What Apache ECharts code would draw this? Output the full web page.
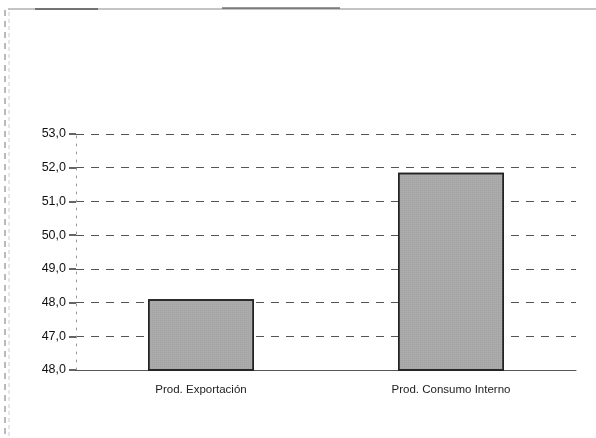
<!DOCTYPE html>
<html>
<head>
<meta charset="utf-8">
<script src="https://cdn.jsdelivr.net/npm/echarts@6/dist/echarts.min.js"></script>
<style>
  html, body { margin: 0; padding: 0; background: #fff; }
  #chart { width: 596px; height: 438px; }
</style>
</head>
<body>
<div id="chart"></div>
<script>
const categorias = ['Prod. Exportación', 'Prod. Consumo Interno'];
const valores = [48.1, 51.85];
// etiquetas del eje Y tal como aparecen (de abajo hacia arriba)
const etiquetasY = ['48,0', '47,0', '48,0', '49,0', '50,0', '51,0', '52,0', '53,0'];
const yMin = 46;

const chart = echarts.init(document.getElementById('chart'));

chart.setOption({
    animation: false,
    backgroundColor: '#fff',
    grid: { left: 76, right: 20, top: 134, bottom: 68 },
    xAxis: {
        type: 'category',
        data: categorias,
        axisLine: { lineStyle: { color: '#555', width: 1 } },
        axisTick: { show: false },
        axisLabel: {
            margin: 14,
            fontSize: 11.5,
            color: '#222',
            fontFamily: 'Liberation Sans Narrow, Arial Narrow, Liberation Sans, sans-serif'
        }
    },
    yAxis: {
        type: 'value',
        min: 46,
        max: 53,
        interval: 1,
        axisLine: { show: true, lineStyle: { color: '#999', type: [2, 6], width: 1 } },
        axisTick: { show: true, inside: false, length: 7, lineStyle: { color: '#333', width: 1.5 } },
        axisLabel: {
            margin: 10,
            fontSize: 12.5,
            color: '#111',
            fontFamily: 'Liberation Sans, Arial, sans-serif',
            formatter: (v) => etiquetasY[Math.round(v - yMin)]
        },
        splitLine: { show: true, lineStyle: { color: '#555', type: [8, 7], width: 1 } }
    },
    series: [
        {
            type: 'bar',
            data: valores,
            barWidth: 106,
            itemStyle: {
                color: '#ababab',
                borderColor: '#222',
                borderWidth: 1.5,
                decal: {
                    symbol: 'rect',
                    symbolSize: 0.5,
                    dashArrayX: [1, 1],
                    dashArrayY: [1, 1],
                    color: 'rgba(80,80,80,0.4)'
                }
            }
        }
    ],
    graphic: [
        { type: 'line', shape: { x1: 8, y1: 9, x2: 596, y2: 9 }, style: { stroke: '#888', lineWidth: 1 } },
        { type: 'line', shape: { x1: 35, y1: 9, x2: 98, y2: 9 }, style: { stroke: '#222', lineWidth: 1 } },
        { type: 'line', shape: { x1: 222, y1: 8, x2: 340, y2: 8 }, style: { stroke: '#333', lineWidth: 1 } },
        { type: 'line', shape: { x1: 5, y1: 10, x2: 5, y2: 438 }, style: { stroke: '#777', lineWidth: 1, lineDash: [6, 5] } },
        { type: 'line', shape: { x1: 9, y1: 12, x2: 9, y2: 438 }, style: { stroke: '#ccc', lineWidth: 1, lineDash: [4, 3] } }
    ]
});
</script>
</body>
</html>
